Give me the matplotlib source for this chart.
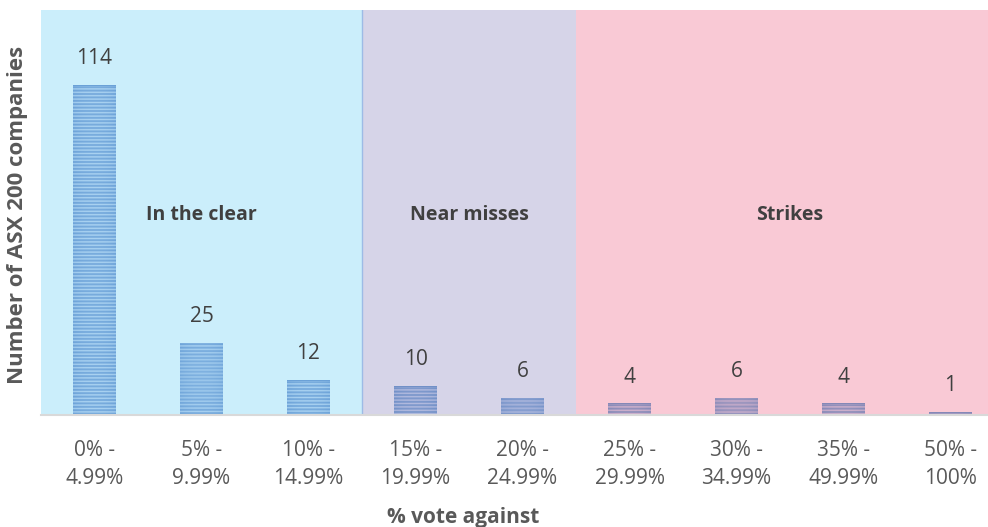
import numpy as np
import matplotlib
matplotlib.use("Agg")
import matplotlib.pyplot as plt
from matplotlib.colors import to_rgb

plt.rcParams['font.family'] = ['Open Sans', 'DejaVu Sans']

categories = ["0% -\n4.99%", "5% -\n9.99%", "10% -\n14.99%", "15% -\n19.99%",
              "20% -\n24.99%", "25% -\n29.99%", "30% -\n34.99%", "35% -\n49.99%",
              "50% -\n100%"]
counts = [114, 25, 12, 10, 6, 4, 6, 4, 1]

zone_names = ["In the clear", "Near misses", "Strikes"]
zone_spans = [(0, 2), (3, 4), (5, 8)]
zone_colors = ["#cbeefb", "#d6d4e8", "#f9c9d5"]

ymax = 140
fig = plt.figure(figsize=(9.88, 5.27), dpi=100)
ax = fig.add_axes([41 / 988, 112 / 527, 963 / 988, 405 / 527])
ax.set_xlim(-0.5, len(counts) - 0.5)
ax.set_ylim(0, ymax)

for (a, b), c in zip(zone_spans, zone_colors):
    ax.axvspan(a - 0.5, b + 0.5, color=c, lw=0, zorder=0)
ax.axvline(zone_spans[0][1] + 0.5, color="#9dbbe6", lw=1, zorder=1)

for name, (a, b) in zip(zone_names, zone_spans):
    ax.text((a + b) / 2, 69, name, ha="center", va="center",
            fontsize=14, fontweight="bold", color="#404040", zorder=5)

# bar fill is the zone colour multiplied by a striped blue shade
dark_mul = np.array([0.53, 0.68, 0.86])
light_mul = np.array([0.83, 0.88, 0.96])
px_per_unit = 405 / ymax
width = 0.4
bars = ax.bar(range(len(counts)), counts, width=width, facecolor="none",
              edgecolor="none", zorder=3)
for i, (bar, v) in enumerate(zip(bars, counts)):
    bg = next(np.array(to_rgb(c)) for (a, b), c in zip(zone_spans, zone_colors)
              if a <= i <= b)
    dark, light = bg * dark_mul, bg * light_mul
    rows = max(int(round(v * px_per_unit)), 2)
    cols = 43
    u = np.linspace(0, 1, cols)
    yy = np.arange(rows)
    horiz = 1 - np.abs(2 * u - 1) ** 2.5
    stripe = (0.5 + 0.5 * np.cos(2 * np.pi * yy / 3.4)) ** 1.5
    mix = 0.15 * horiz[None, :] + 0.8 * stripe[:, None] + 0.05
    mix[:1, :] = 0.0
    mix = np.clip(mix, 0, 1)
    img = dark[None, None, :] + (light - dark)[None, None, :] * mix[:, :, None]
    im = ax.imshow(img, extent=(i - width / 2, i + width / 2, 0, v),
                   aspect="auto", interpolation="bilinear", zorder=2)
    im.set_clip_path(bar)
    ax.annotate(str(v), (i, v), xytext=(0, 19), textcoords="offset points",
                ha="center", va="center", fontsize=15, color="#404040", zorder=5)

ax.set_xlim(-0.5, len(counts) - 0.5)
ax.set_ylim(0, ymax)
ax.set_xticks(range(len(counts)))
ax.set_xticklabels(categories, fontsize=15, color="#595959", linespacing=1.45)
ax.tick_params(axis="x", length=0, pad=18)
ax.set_yticks([])
for s in ["top", "right", "left"]:
    ax.spines[s].set_visible(False)
ax.spines["bottom"].set_color("#d9d9d9")
ax.spines["bottom"].set_linewidth(1.5)
ax.spines["bottom"].set_zorder(4)

fig.text(463 / 988, 1 - 518 / 527, "% vote against", ha="center", va="center",
         fontsize=15, fontweight="bold", color="#595959")
fig.text(18 / 988, 1 - 215 / 527, "Number of ASX 200 companies", ha="center",
         va="center", rotation=90, fontsize=16, fontweight="bold", color="#595959")

fig.savefig("out.png", dpi=100)
